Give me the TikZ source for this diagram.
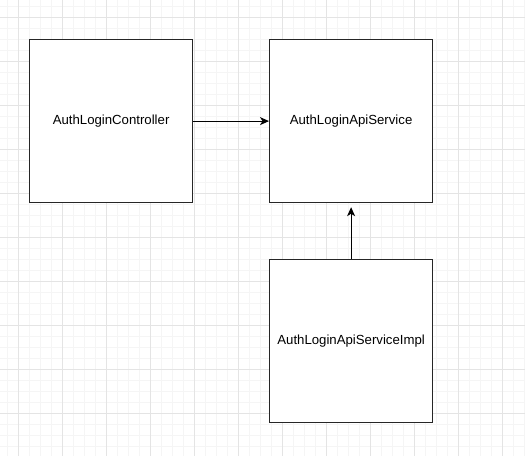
\documentclass[tikz,border=0pt]{standalone}
\usepackage{fontspec}
\setmainfont{Liberation Sans}
\usetikzlibrary{arrows.meta}
\definecolor{minorgrid}{HTML}{F5F5F5}
\definecolor{majorgrid}{HTML}{E4E4E4}
\tikzset{
  box/.style={draw=black!85, line width=1.2pt, fill=white, minimum width=163pt, minimum height=163pt, inner sep=0pt, font=\fontsize{13.2pt}{15pt}\selectfont, anchor=north west},
  conn/.style={draw=black, line width=1pt, -{Stealth[length=9pt,width=8pt,inset=2.5pt]}}
}
\begin{document}
\begin{tikzpicture}[x=1pt,y=-1pt]
\useasboundingbox (0,0) rectangle (525,456);
\fill[white] (0,0) rectangle (525,456);
% minor grid
\foreach \i in {0,...,48} {
  \draw[minorgrid, line width=0.8pt] ({18+11*(\i-1)},0) -- ({18+11*(\i-1)},456);
}
\foreach \j in {0,...,42} {
  \draw[minorgrid, line width=0.8pt] (0,{17+11*(\j-1)}) -- (525,{17+11*(\j-1)});
}
% major grid
\foreach \i in {0,...,12} {
  \draw[majorgrid, line width=0.8pt] ({18+44*\i},0) -- ({18+44*\i},456);
}
\foreach \j in {0,...,11} {
  \draw[majorgrid, line width=0.8pt] (0,{17+44*\j}) -- (525,{17+44*\j});
}
\node[box] (ctrl) at (29,39) {AuthLoginController};
\node[box] (api) at (269,39) {AuthLoginApiService};
\node[box] (impl) at (269,259) {AuthLoginApiServiceImpl};
\draw[conn] (ctrl.east) -- (api.west);
\draw[conn] (impl.north) -- ([yshift=-4pt]api.south);
\end{tikzpicture}
\end{document}
